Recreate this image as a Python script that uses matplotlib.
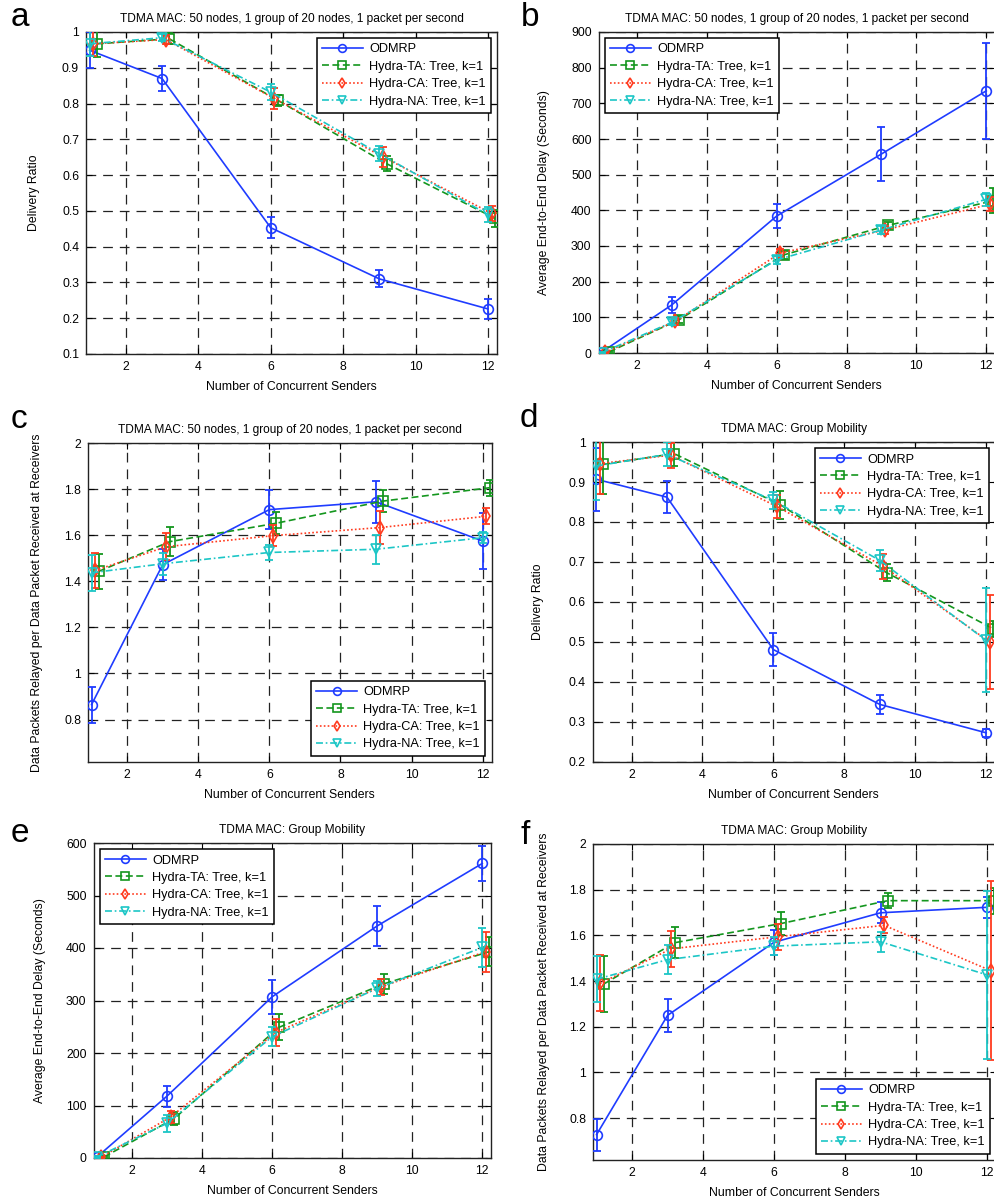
import matplotlib.pyplot as plt
from matplotlib.ticker import FormatStrFormatter

plt.rcParams['font.family'] = ['Liberation Sans', 'DejaVu Sans']
plt.rcParams['lines.scale_dashes'] = False

senders = [1, 3, 6, 9, 12]
names = ['ODMRP', 'Hydra-TA: Tree, k=1', 'Hydra-CA: Tree, k=1', 'Hydra-NA: Tree, k=1']

# a: delivery ratio, static
a_mean = [[0.949, 0.870, 0.453, 0.310, 0.226],
          [0.967, 0.981, 0.809, 0.632, 0.479],
          [0.967, 0.979, 0.814, 0.651, 0.493],
          [0.967, 0.984, 0.832, 0.660, 0.490]]
a_err = [[0.050, 0.036, 0.030, 0.024, 0.028],
         [0.037, 0.015, 0.016, 0.021, 0.024],
         [0.035, 0.012, 0.030, 0.028, 0.020],
         [0.035, 0.010, 0.023, 0.020, 0.020]]

# b: delay, static
b_mean = [[3, 135, 384, 558, 735],
          [3, 93, 275, 358, 427],
          [2, 89, 280, 345, 417],
          [1, 86, 261, 345, 431]]
b_err = [[3, 23, 33, 75, 134],
         [3, 10, 12, 10, 35],
         [2, 10, 12, 10, 20],
         [1, 8, 12, 10, 18]]

# c: relay overhead, static
c_mean = [[0.865, 1.472, 1.711, 1.745, 1.575],
          [1.443, 1.572, 1.652, 1.748, 1.806],
          [1.447, 1.550, 1.598, 1.633, 1.682],
          [1.437, 1.476, 1.525, 1.539, 1.589]]
c_err = [[0.078, 0.067, 0.083, 0.090, 0.120],
         [0.075, 0.062, 0.048, 0.047, 0.035],
         [0.075, 0.058, 0.045, 0.070, 0.035],
         [0.078, 0.047, 0.032, 0.063, 0.025]]

# d: delivery ratio, group mobility
d_mean = [[0.907, 0.862, 0.481, 0.344, 0.273],
          [0.944, 0.971, 0.843, 0.673, 0.533],
          [0.946, 0.967, 0.839, 0.689, 0.500],
          [0.940, 0.969, 0.854, 0.704, 0.504]]
d_err = [[0.079, 0.040, 0.042, 0.023, 0.010],
         [0.073, 0.032, 0.035, 0.021, 0.020],
         [0.075, 0.031, 0.028, 0.031, 0.117],
         [0.085, 0.030, 0.022, 0.026, 0.130]]

# e: delay, group mobility
e_mean = [[2, 118, 307, 442, 561],
          [2, 75, 249, 332, 393],
          [1, 78, 239, 326, 393],
          [2, 66, 231, 323, 401]]
e_err = [[2, 20, 33, 38, 34],
         [2, 12, 25, 19, 28],
         [1, 12, 25, 15, 38],
         [2, 16, 18, 15, 38]]

# f: relay overhead, group mobility
f_mean = [[0.728, 1.250, 1.570, 1.699, 1.723],
          [1.387, 1.568, 1.652, 1.752, 1.752],
          [1.390, 1.541, 1.594, 1.644, 1.446],
          [1.408, 1.494, 1.553, 1.572, 1.427]]
f_err = [[0.070, 0.072, 0.055, 0.046, 0.047],
         [0.123, 0.068, 0.050, 0.032, 0.057],
         [0.123, 0.080, 0.058, 0.035, 0.390],
         [0.100, 0.065, 0.039, 0.044, 0.369]]

title_static = 'TDMA MAC: 50 nodes, 1 group of 20 nodes, 1 packet per second'
title_mob = 'TDMA MAC: Group Mobility'
xlab = 'Number of Concurrent Senders'
ylab_ratio = 'Delivery Ratio'
ylab_delay = 'Average End-to-End Delay (Seconds)'
ylab_relay = 'Data Packets Relayed per Data Packet Received at Receivers'

colors = ['#1f3cff', '#14961e', '#ff3b1f', '#1cc6c6']
lstyles = ['-', (0, (5, 2.5)), (0, (1.2, 1.6)), (0, (5, 2, 1.2, 2))]
markers = ['o', 's', 'd', 'v']
msizes = [7, 7, 7, 7]
shifts = [0, 0.2, 0.1, 0]

W, H = 994, 1200
fig = plt.figure(figsize=(W / 100, H / 100), dpi=100)


def panel(box, mean, err, title, ylabel, ylim, yticks, legloc, ylab_off):
    l, t, r, b = box
    ax = fig.add_axes([l / W, 1 - b / H, (r - l) / W, (b - t) / H])
    handles = []
    for i in range(4):
        xs = [x + shifts[i] for x in senders]
        ax.errorbar(xs, mean[i], yerr=err[i], fmt='none', ecolor=colors[i],
                    elinewidth=1.3, capsize=3, capthick=1.3, zorder=3 + i)
        h, = ax.plot(xs, mean[i], color=colors[i], linestyle=lstyles[i], lw=1.2,
                     marker=markers[i], markersize=msizes[i],
                     markerfacecolor='none', markeredgewidth=1.2, zorder=3 + i,
                     label=names[i])
        handles.append(h)
    ax.set_xlim(0.9, 12.25)
    ax.set_ylim(*ylim)
    ax.set_xticks([2, 4, 6, 8, 10, 12])
    ax.set_yticks(yticks)
    ax.yaxis.set_major_formatter(FormatStrFormatter('%g'))
    ax.grid(True, color='#222222', linestyle=(0, (7, 5)), linewidth=0.9)
    ax.set_axisbelow(True)
    ax.tick_params(direction='in', top=True, right=True, labelsize=8.8, length=4, pad=5)
    for s in ax.spines.values():
        s.set_linewidth(1.0)
        s.set_color('#222222')
    ax.set_title(title, fontsize=8.6, pad=7)
    ax.set_xlabel(xlab, fontsize=8.8, labelpad=6)
    ax.set_ylabel(ylabel, fontsize=8.8)
    ax.yaxis.set_label_coords(ylab_off / (r - l), 0.5)
    leg = ax.legend(handles=handles, loc=legloc, fontsize=9.2, handlelength=3.2,
                    fancybox=False, framealpha=1, edgecolor='black', markerscale=0.8,
                    borderaxespad=0.5, labelspacing=0.42, borderpad=0.4,
                    handletextpad=0.5)
    leg.get_frame().set_linewidth(1.1)
    return ax


boxes = {
    'a': (86, 32, 497, 354),
    'b': (598.5, 32, 995, 353),
    'c': (88, 443, 491.5, 762),
    'd': (592.5, 442, 995, 762),
    'e': (93.5, 843, 491, 1158),
    'f': (593, 844, 996, 1160),
}

panel(boxes['a'], a_mean, a_err, title_static, ylab_ratio,
      (0.1, 1.0), [0.1 * k for k in range(1, 11)], 'upper right', -46)
panel(boxes['b'], b_mean, b_err, title_static, ylab_delay,
      (0, 900), range(0, 901, 100), 'upper left', -48)
panel(boxes['c'], c_mean, c_err, title_static, ylab_relay,
      (0.616, 2.0), [0.8, 1.0, 1.2, 1.4, 1.6, 1.8, 2.0], 'lower right', -45)
panel(boxes['d'], d_mean, d_err, title_mob, ylab_ratio,
      (0.2, 1.0), [0.1 * k for k in range(2, 11)], 'upper right', -49)
panel(boxes['e'], e_mean, e_err, title_mob, ylab_delay,
      (0, 600), range(0, 601, 100), 'upper left', -48)
panel(boxes['f'], f_mean, f_err, title_mob, ylab_relay,
      (0.617, 2.0), [0.8, 1.0, 1.2, 1.4, 1.6, 1.8, 2.0], 'lower right', -43)

letter_pos = {'a': (20, 18), 'b': (530, 17), 'c': (19, 420),
              'd': (529, 418), 'e': (20, 833), 'f': (525, 835)}
for k, (px, py) in letter_pos.items():
    fig.text(px / W, 1 - py / H, k, fontsize=24, ha='center', va='center')

fig.savefig('out.png', dpi=100)
